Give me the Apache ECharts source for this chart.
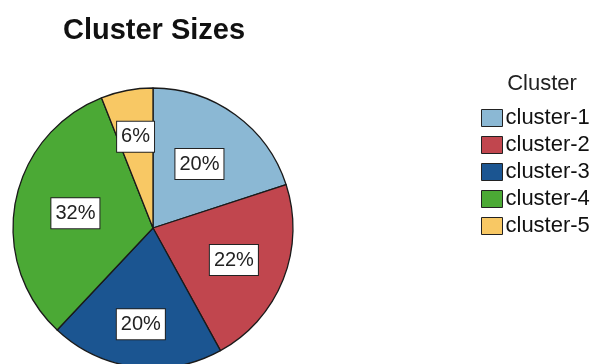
<!DOCTYPE html>
<html>
<head>
<meta charset="utf-8">
<script src="https://cdn.jsdelivr.net/npm/echarts@6/dist/echarts.min.js"></script>
<style>
html,body{margin:0;padding:0;background:#fff;}
#c{width:592px;height:364px;}
</style>
</head>
<body>
<div id="c"></div>
<script>
const categories = ['cluster-1', 'cluster-2', 'cluster-3', 'cluster-4', 'cluster-5'];
const percents = [20, 22, 20, 32, 6];
const colors = ['#8bb8d4', '#c1464e', '#1b5591', '#4ba935', '#f8c864'];

// style: radial distance of each label box from the pie centre (px)
const labelRadius = [79, 87, 97, 79, 93];
const pieCenter = [153, 228];

const pieData = categories.map((name, i) => ({ name: name, value: percents[i] }));

const chart = echarts.init(document.getElementById('c'), null, { renderer: 'canvas' });
chart.setOption({
  animation: false,
  backgroundColor: '#ffffff',
  color: colors,
  title: [
    {
      text: 'Cluster Sizes',
      left: 149,
      textAlign: 'center',
      top: 11,
      textStyle: { fontFamily: 'Liberation Sans', fontSize: 29, fontWeight: 'bold', color: '#111' }
    },
    {
      text: 'Cluster',
      left: 537,
      textAlign: 'center',
      top: 68,
      textStyle: { fontFamily: 'Liberation Sans', fontSize: 22, fontWeight: 'normal', color: '#222' }
    }
  ],
  legend: {
    orient: 'vertical',
    left: 476,
    top: 102,
    itemWidth: 21,
    itemHeight: 17,
    itemGap: 5,
    icon: 'rect',
    selectedMode: false,
    itemStyle: { borderColor: '#222', borderWidth: 1 },
    textStyle: { fontFamily: 'Liberation Sans', fontSize: 22, color: '#111', padding: [0, 0, 0, -2] },
    data: categories
  },
  series: [
    {
      type: 'pie',
      center: pieCenter,
      radius: [0, 140],
      startAngle: 90,
      clockwise: true,
      silent: true,
      data: pieData,
      itemStyle: { borderColor: '#1a1a1a', borderWidth: 1.3 },
      label: { show: false },
      labelLine: { show: false }
    },
    {
      type: 'pie',
      center: pieCenter,
      radius: [0, 170],
      startAngle: 90,
      clockwise: true,
      silent: true,
      legendHoverLink: false,
      data: pieData,
      itemStyle: { color: 'rgba(0,0,0,0)', borderWidth: 0 },
      label: {
        show: true,
        position: 'inside',
        formatter: '{c}%',
        fontFamily: 'Liberation Sans',
        fontSize: 20,
        color: '#222',
        backgroundColor: '#ffffff',
        borderColor: '#222',
        borderWidth: 1,
        padding: [6, 4, 4, 4]
      },
      labelLine: { show: false },
      labelLayout: function (p) {
        const r = p.labelRect;
        const lx = r.x + r.width / 2;
        const ly = r.y + r.height / 2;
        const vx = lx - pieCenter[0];
        const vy = ly - pieCenter[1];
        const d = Math.sqrt(vx * vx + vy * vy) || 1;
        const target = labelRadius[p.dataIndex];
        return { dx: vx / d * target - vx, dy: vy / d * target - vy };
      }
    }
  ]
});
</script>
</body>
</html>
